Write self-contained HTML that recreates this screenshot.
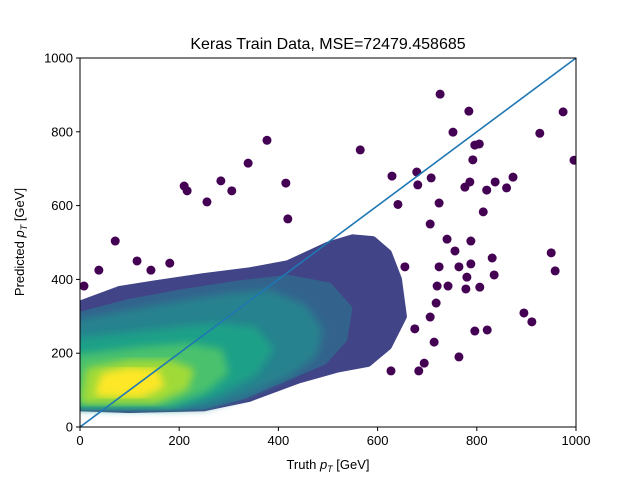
<!DOCTYPE html>
<html><head><meta charset="utf-8"><style>
body{margin:0;background:#fff;}
svg text{font-family:"Liberation Sans","DejaVu Sans",sans-serif;fill:#000;}
</style></head><body>
<svg id="chart" width="640" height="480" viewBox="0 0 640 480">
<defs><filter id="bl" x="-20%" y="-20%" width="140%" height="140%"><feGaussianBlur stdDeviation="4"/></filter></defs>
<rect width="640" height="480" fill="#fff"/>
<text x="328" y="49" font-size="16" text-anchor="middle">Keras Train Data, MSE=72479.458685</text>
<g id="plot"></g>
<g id="axes"></g>
<text x="328" y="469" font-size="13" text-anchor="middle">Truth <tspan font-style="italic">p</tspan><tspan font-style="italic" font-size="9" dy="3">T</tspan><tspan dy="-3"> [GeV]</tspan></text>
<text transform="translate(24,242) rotate(-90)" font-size="13" text-anchor="middle">Predicted <tspan font-style="italic">p</tspan><tspan font-style="italic" font-size="9" dy="3">T</tspan><tspan dy="-3"> [GeV]</tspan></text>
</svg>
<script>
const xTicks=[0,200,400,600,800,1000];
const yTicks=[0,200,400,600,800,1000];
const densityColors=["#414487","#33638d","#26828e","#1fa088","#4ac16d","#a0da39","#fde725"];
const densityLevels=[
[[0,55],[100,50],[250,55],[340,80],[440,130],[520,160],[580,175],[620,220],[650,300],[640,400],[620,470],[590,505],[550,510],[500,490],[420,440],[340,420],[250,405],[150,385],[80,370],[0,330]],
[[0,58],[250,60],[330,88],[420,140],[490,180],[530,240],[540,320],[500,380],[420,400],[320,385],[200,360],[100,335],[0,300]],
[[0,62],[250,62],[330,95],[420,150],[470,200],[480,260],[450,320],[380,360],[300,350],[200,330],[100,305],[0,280]],
[[0,65],[200,65],[280,100],[350,150],[380,210],[350,260],[280,270],[200,260],[100,245],[0,230]],
[[0,70],[180,70],[250,105],[290,150],[280,200],[220,215],[120,205],[0,185]],
[[10,75],[150,75],[210,110],[220,150],[180,170],[100,170],[20,150]],
[[40,95],[120,90],[160,115],[150,145],[100,150],[50,135]]
];
const outX=[726,784,974,996,927,752,796,377,339,210,216,284,306,256,415,419,895,911,950,958,821,764,71,143,181,115,8,38,805,792,873,837,820,860,776,786,724,813,681,679,629,706,740,788,756,831,788,724,764,655,835,780,806,778,742,720,718,796,714,694,683,627,706,675,565,708,641];
const outY=[902,856,854,723,796,799,764,777,715,653,640,667,640,610,661,564,309,285,472,423,263,190,504,425,444,450,382,425,767,724,677,664,642,648,650,664,607,583,656,691,680,550,509,504,477,458,442,434,434,434,412,406,379,374,382,382,336,260,230,173,152,152,298,266,751,675,603];

const X0=80,X1=576,Y0=427,Y1=58;
function sx(v){return X0+(v/1000)*(X1-X0);}
function sy(v){return Y0-(v/1000)*(Y0-Y1);}
const NS="http://www.w3.org/2000/svg";
const plot=document.getElementById('plot');
const axes=document.getElementById('axes');
const clip=document.createElementNS(NS,'clipPath');clip.setAttribute('id','pc');
const cr=document.createElementNS(NS,'rect');cr.setAttribute('x',X0);cr.setAttribute('y',Y1);cr.setAttribute('width',X1-X0);cr.setAttribute('height',Y0-Y1);
clip.appendChild(cr);plot.appendChild(clip);
const g=document.createElementNS(NS,'g');g.setAttribute('clip-path','url(#pc)');plot.appendChild(g);
densityLevels.forEach((poly,i)=>{
  const p=document.createElementNS(NS,'polygon');
  p.setAttribute('points',poly.map(q=>sx(q[0])+','+sy(q[1])).join(' '));
  p.setAttribute('fill',densityColors[i]);
  p.setAttribute('stroke',densityColors[i]);
  p.setAttribute('stroke-width',9);
  p.setAttribute('stroke-linejoin','round');
  if(i>1)p.setAttribute('filter','url(#bl)');
  
  
  g.appendChild(p);
});
outX.forEach((v,i)=>{
  const c=document.createElementNS(NS,'circle');
  c.setAttribute('cx',sx(v));c.setAttribute('cy',sy(outY[i]));c.setAttribute('r',4.5);
  c.setAttribute('fill','#440154');
  
  
  g.appendChild(c);
});
const ln=document.createElementNS(NS,'line');
ln.setAttribute('x1',sx(0));ln.setAttribute('y1',sy(0));ln.setAttribute('x2',sx(1000));ln.setAttribute('y2',sy(1000));
ln.setAttribute('stroke','#1f77b4');ln.setAttribute('stroke-width',1.6);


g.appendChild(ln);
const fr=document.createElementNS(NS,'rect');
fr.setAttribute('x',X0);fr.setAttribute('y',Y1);fr.setAttribute('width',X1-X0);fr.setAttribute('height',Y0-Y1);
fr.setAttribute('fill','none');fr.setAttribute('stroke','#000');fr.setAttribute('stroke-width',1);


axes.appendChild(fr);
xTicks.forEach(t=>{
  const l=document.createElementNS(NS,'line');
  l.setAttribute('x1',sx(t));l.setAttribute('x2',sx(t));l.setAttribute('y1',Y0);l.setAttribute('y2',Y0+4);l.setAttribute('stroke','#000');
  
  
  axes.appendChild(l);
  const tx=document.createElementNS(NS,'text');
  tx.setAttribute('x',sx(t));tx.setAttribute('y',Y0+18);tx.setAttribute('font-size','13');tx.setAttribute('text-anchor','middle');
  tx.textContent=t;
  
  
  axes.appendChild(tx);
});
yTicks.forEach(t=>{
  const l=document.createElementNS(NS,'line');
  l.setAttribute('x1',X0-4);l.setAttribute('x2',X0);l.setAttribute('y1',sy(t));l.setAttribute('y2',sy(t));l.setAttribute('stroke','#000');
  
  
  axes.appendChild(l);
  const tx=document.createElementNS(NS,'text');
  tx.setAttribute('x',X0-7);tx.setAttribute('y',sy(t)+4.5);tx.setAttribute('font-size','13');tx.setAttribute('text-anchor','end');
  tx.textContent=t;
  
  
  axes.appendChild(tx);
});
</script>
</body></html>
